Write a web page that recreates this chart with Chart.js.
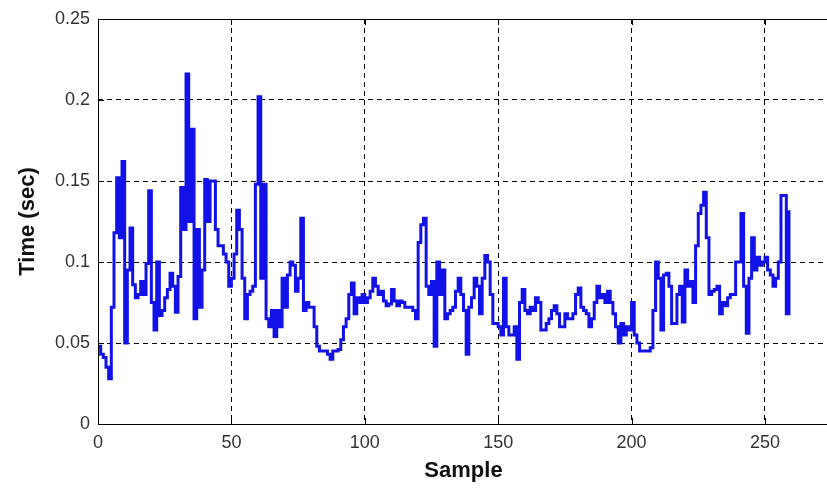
<!DOCTYPE html>
<html>
<head>
<meta charset="utf-8">
<script src="https://cdn.jsdelivr.net/npm/chart.js@4"></script>
<style>
  html, body { margin: 0; padding: 0; background: #fff; overflow: hidden; }
</style>
</head>
<body>
<canvas id="chart" width="832" height="491"></canvas>
<script>
// time per sample (sec)
const timeValues = [
  0.048, 0.043, 0.041, 0.035, 0.028, 0.072, 0.118, 0.152, 0.115, 0.162,
  0.050, 0.095, 0.121, 0.086, 0.078, 0.080, 0.088, 0.080, 0.099, 0.144,
  0.075, 0.058, 0.100, 0.067, 0.070, 0.078, 0.083, 0.093, 0.085, 0.069,
  0.091, 0.146, 0.120, 0.216, 0.125, 0.182, 0.065, 0.120, 0.072, 0.095,
  0.151, 0.125, 0.150, 0.150, 0.120, 0.110, 0.110, 0.105, 0.100, 0.085,
  0.090, 0.105, 0.132, 0.120, 0.090, 0.065, 0.080, 0.082, 0.085, 0.148,
  0.202, 0.090, 0.148, 0.065, 0.060, 0.070, 0.054, 0.070, 0.060, 0.090,
  0.072, 0.092, 0.100, 0.098, 0.082, 0.090, 0.127, 0.070, 0.075, 0.072,
  0.072, 0.060, 0.048, 0.045, 0.045, 0.045, 0.043, 0.040, 0.045, 0.045,
  0.046, 0.052, 0.060, 0.065, 0.080, 0.087, 0.068, 0.078, 0.075, 0.080,
  0.075, 0.078, 0.082, 0.090, 0.085, 0.080, 0.082, 0.076, 0.073, 0.074,
  0.083, 0.076, 0.073, 0.076, 0.075, 0.072, 0.072, 0.072, 0.070, 0.065,
  0.112, 0.123, 0.127, 0.085, 0.080, 0.088, 0.048, 0.100, 0.080, 0.095,
  0.065, 0.068, 0.070, 0.072, 0.082, 0.090, 0.080, 0.070, 0.043, 0.072,
  0.078, 0.090, 0.085, 0.068, 0.090, 0.104, 0.100, 0.080, 0.062, 0.062,
  0.060, 0.055, 0.090, 0.060, 0.055, 0.055, 0.060, 0.040, 0.075, 0.083,
  0.070, 0.068, 0.072, 0.070, 0.078, 0.075, 0.058, 0.058, 0.062, 0.065,
  0.070, 0.073, 0.068, 0.060, 0.060, 0.068, 0.065, 0.065, 0.068, 0.080,
  0.084, 0.072, 0.070, 0.068, 0.060, 0.065, 0.075, 0.085, 0.078, 0.080,
  0.075, 0.082, 0.075, 0.068, 0.060, 0.050, 0.062, 0.055, 0.060, 0.058,
  0.075, 0.055, 0.050, 0.045, 0.045, 0.045, 0.045, 0.047, 0.070, 0.100,
  0.090, 0.058, 0.092, 0.093, 0.085, 0.062, 0.062, 0.080, 0.085, 0.063,
  0.095, 0.085, 0.088, 0.075, 0.110, 0.130, 0.135, 0.143, 0.115, 0.080,
  0.082, 0.083, 0.085, 0.068, 0.075, 0.073, 0.078, 0.080, 0.080, 0.100,
  0.100, 0.130, 0.085, 0.056, 0.090, 0.115, 0.095, 0.103, 0.098, 0.100,
  0.103, 0.095, 0.092, 0.085, 0.090, 0.100, 0.141, 0.141, 0.068, 0.132
];
const xTicks = [0, 50, 100, 150, 200, 250];
const yTicks = [0, 0.05, 0.1, 0.15, 0.2, 0.25];
const xMax = 274;

const points = timeValues.map((v, i) => ({ x: i, y: v }));

// box around the axes + small inward ticks, matlab style
const frame = {
  id: 'frame',
  afterDatasetsDraw(chart) {
    const { ctx, chartArea: a, scales } = chart;
    ctx.save();
    ctx.strokeStyle = '#000';
    ctx.lineWidth = 1;
    ctx.setLineDash([]);
    ctx.strokeRect(a.left + 0.5, a.top + 0.5, a.right - a.left, a.bottom - a.top);
    ctx.beginPath();
    xTicks.forEach(t => {
      const px = Math.round(scales.x.getPixelForValue(t)) + 0.5;
      ctx.moveTo(px, a.bottom); ctx.lineTo(px, a.bottom - 6);
      ctx.moveTo(px, a.top); ctx.lineTo(px, a.top + 6);
    });
    yTicks.forEach(t => {
      const py = Math.round(scales.y.getPixelForValue(t)) + 0.5;
      ctx.moveTo(a.left, py); ctx.lineTo(a.left + 6, py);
    });
    ctx.stroke();
    ctx.restore();
  }
};

const ctx = document.getElementById('chart').getContext('2d');
new Chart(ctx, {
  type: 'line',
  data: {
    datasets: [{
      data: points,
      borderColor: '#1212e8',
      borderWidth: 3,
      pointRadius: 0,
      stepped: true,
      fill: false
    }]
  },
  options: {
    responsive: false,
    animation: false,
    devicePixelRatio: 1,
    layout: { padding: { top: 19, right: 3, left: 0, bottom: 0 } },
    plugins: { legend: { display: false }, tooltip: { enabled: false } },
    scales: {
      x: {
        type: 'linear',
        min: 0,
        max: xMax,
        afterBuildTicks: s => { s.ticks = xTicks.map(v => ({ value: v })); },
        afterFit: s => { s.height = 67; },
        grid: { color: '#000', lineWidth: 1, drawTicks: false },
        border: { display: false, dash: [5, 4] },
        ticks: {
          padding: 8,
          color: '#333',
          font: { family: 'Liberation Sans, Arial, sans-serif', size: 18 },
          callback: v => String(v)
        },
        title: {
          display: true,
          text: 'Sample',
          color: '#111',
          font: { family: 'Liberation Sans, Arial, sans-serif', size: 22, weight: 'bold' },
          padding: { top: 0, bottom: 7 }
        }
      },
      y: {
        min: 0,
        max: 0.25,
        afterBuildTicks: s => { s.ticks = yTicks.map(v => ({ value: v })); },
        afterFit: s => { s.width = 98; },
        grid: { color: '#000', lineWidth: 1, drawTicks: false },
        border: { display: false, dash: [5, 4] },
        ticks: {
          padding: 8,
          color: '#333',
          font: { family: 'Liberation Sans, Arial, sans-serif', size: 18 },
          callback: v => String(v)
        },
        title: {
          display: true,
          text: 'Time (sec)',
          color: '#111',
          font: { family: 'Liberation Sans, Arial, sans-serif', size: 22, weight: 'bold' },
          padding: { top: 15, bottom: 0 }
        }
      }
    }
  },
  plugins: [frame]
});
</script>
</body>
</html>
